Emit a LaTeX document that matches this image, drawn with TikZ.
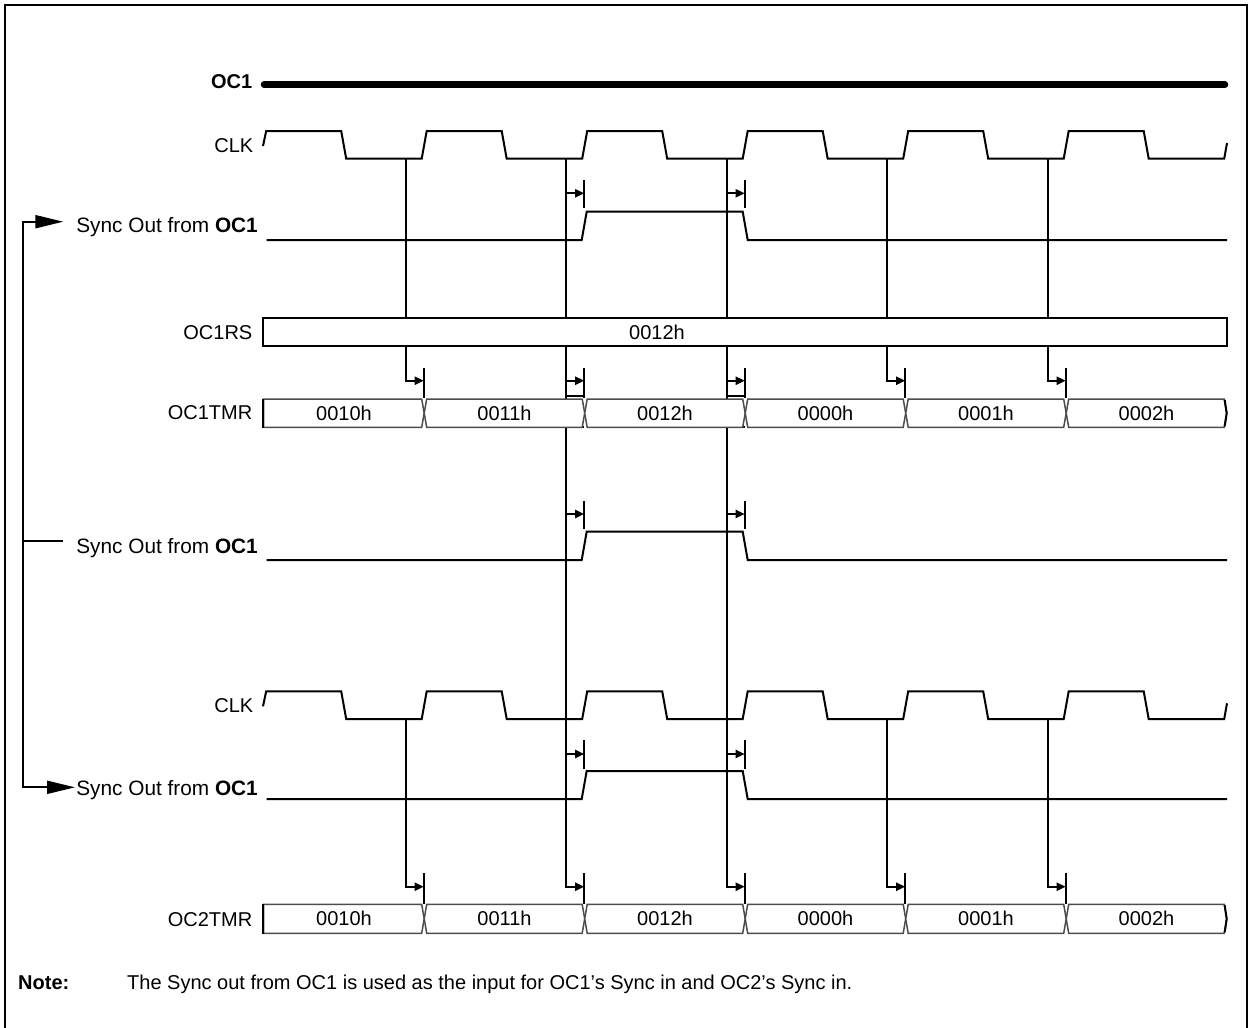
\documentclass[tikz,border=0pt]{standalone}
\usepackage{fontspec}
\setmainfont{Liberation Sans}
\usetikzlibrary{arrows.meta,calc}
\tikzset{
  wave/.style={line width=2pt},
  guide/.style={line width=2pt},
  lbl/.style={inner sep=0pt, anchor=east, font=\fontsize{20}{24}\selectfont},
  synclbl/.style={inner sep=0pt, anchor=base east, font=\fontsize{20.8}{24}\selectfont},
  val/.style={inner sep=0pt, font=\fontsize{20}{24}\selectfont},
  notelbl/.style={inner sep=0pt, anchor=base west, font=\fontsize{20}{24}\selectfont},
  busbox/.style={draw=black!70, line width=1.5pt, fill=white},
  regbox/.style={draw=black, line width=2pt, fill=white},
  darr/.style={-{Triangle[length=9pt,width=8pt]}, line width=2pt},
  fbarr/.style={{Triangle[length=28pt,width=13pt]}-{Triangle[length=28pt,width=13pt]}, line width=2pt}}

\begin{document}
\begin{tikzpicture}[x=1pt,y=-1pt]
  \clip (0,0) rectangle (1251,1028);
  \draw[line width=2.5pt] (5,1100) -- (5,5) -- (1247,5) -- (1247,1100);

  \node[lbl] (oc1) at (252.5,81.5) {\bfseries OC1};
  \node[lbl] (clka) at (253.5,145.5) {CLK};
  \node[synclbl] (synca) at (258,232) {Sync Out from \textbf{OC1}};
  \node[lbl] (rs) at (252.5,332.7) {OC1RS};
  \node[lbl] (tmra) at (252.5,412.7) {OC1TMR};
  \node[synclbl] (syncb) at (258,553) {Sync Out from \textbf{OC1}};
  \node[lbl] (clkb) at (253.5,706) {CLK};
  \node[synclbl] (syncc) at (258,795) {Sync Out from \textbf{OC1}};
  \node[lbl] (tmrb) at (252.5,920) {OC2TMR};

  \coordinate (oc1s) at (264,84.5);
  \coordinate (oc1e) at (1225,84.5);
  \draw[line width=6.5pt, line cap=round] (oc1s) -- (oc1e);

  \foreach \dy in {0,560.3}
    \draw[wave] (263,146+\dy) -- (266.2,131+\dy) -- (341.2,131+\dy) -- (346.2,158.7+\dy)
      \foreach \k in {1,...,5} {
        -- ({261.2+160.5*\k},158.7+\dy) -- ({266.2+160.5*\k},131+\dy)
        -- ({341.2+160.5*\k},131+\dy) -- ({346.2+160.5*\k},158.7+\dy)}
      -- (1224.2,158.7+\dy) -- (1227,143+\dy);

  \foreach \ylo/\yhi in {240/211.7, 560/531.7, 799/771}
    \draw[wave] (266.7,\ylo) -- (581.7,\ylo) -- (586.7,\yhi) -- (742.7,\yhi)
      -- (747.7,\ylo) -- (1227,\ylo);

  \foreach \ya/\yt/\yb in {193.3/180/208.3, 514/500.7/529.3, 754/740/769.3}
    \foreach \j in {1,2} {
      \draw[guide] ({423.7+160.5*\j},\yt) -- ({423.7+160.5*\j},\yb);
      \draw[darr] ({405.7+160.5*\j},\ya) -- ({423.7+160.5*\j},\ya);
    }

  \foreach \j in {0,3,4} {
    \draw[darr] ({405.7+160.5*\j},158.7) -- ({405.7+160.5*\j},380.7) -- ({423.7+160.5*\j},380.7);
    \draw[darr] ({405.7+160.5*\j},719) -- ({405.7+160.5*\j},886.7) -- ({423.7+160.5*\j},886.7);
  }
  \foreach \j in {1,2} {
    \draw[darr] ({405.7+160.5*\j},158.7) -- ({405.7+160.5*\j},886.7) -- ({423.7+160.5*\j},886.7);
    \draw[darr] ({405.7+160.5*\j},380.7) -- ({423.7+160.5*\j},380.7);
    \draw[guide] ({405.7+160.5*\j},396) -- ({423.7+160.5*\j},396);
    \draw[guide] ({405.7+160.5*\j},427.3) -- ({423.7+160.5*\j},427.3);
  }
  \foreach \j in {0,...,4} {
    \draw[guide] ({423.7+160.5*\j},368) -- ({423.7+160.5*\j},398);
    \draw[guide] ({423.7+160.5*\j},873) -- ({423.7+160.5*\j},904);
  }

  \draw[regbox] (263.3,317.7) rectangle (1227.3,345.7);
  \node[val] (rsval) at (657,332) {0012h};

  \foreach \yt/\yb in {399/427.3, 904.3/933.3} {
    \foreach \k/\v in {0/0010h, 1/0011h, 2/0012h, 3/0000h, 4/0001h, 5/0002h} {
      \pgfmathsetmacro\L{263.7+160.5*\k}
      \pgfmathsetmacro\e{ifthenelse(\k==0,0,2.5)}
      \draw[busbox] (\L+\e,\yt) -- (\L+158,\yt) -- (\L+160.5,{(\yt+\yb)/2})
        -- (\L+158,\yb) -- (\L+\e,\yb) -- (\L,{(\yt+\yb)/2}) -- cycle;
      \node[val] (seg\k) at (\L+80.25,{(\yt+\yb)/2-0.3}) {\v};
    }
    \draw[line width=2pt] (263.3,\yt-0.5) -- (263.3,\yb+0.5);
    \draw[line width=2pt] (1224.7,\yt+1) -- (1226.7,{(\yt+\yb)/2}) -- (1224.7,\yb-1);
  }

  \coordinate (fba) at (63.3,221.7);
  \coordinate (fbb) at (63.3,541);
  \coordinate (fbc) at (75,787.3);
  \coordinate (fbx) at (22.7,541);
  \draw[fbarr] (fba) -- (fba -| fbx) -- (fbc -| fbx) -- (fbc);
  \draw[guide] (fbb -| fbx) -- (fbb);

  \node[notelbl] (notehd) at (18,989) {\bfseries Note:};
  \node[notelbl] (notetxt) at (127,989) {The Sync out from OC1 is used as the input for OC1’s Sync in and OC2’s Sync in.};
\end{tikzpicture}
\end{document}
